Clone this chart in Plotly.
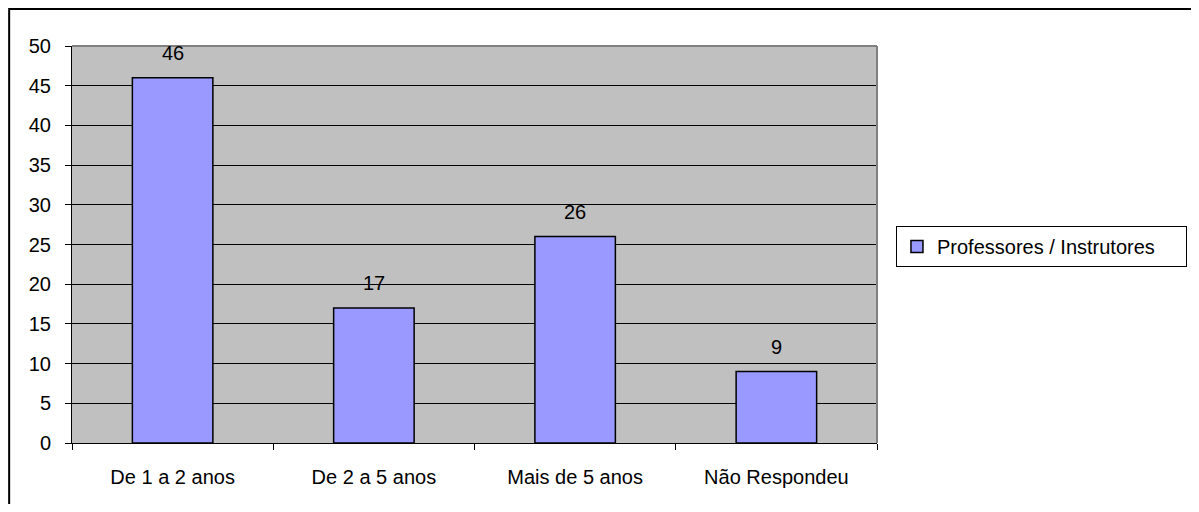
import plotly.graph_objects as go

categories = ["De 1 a 2 anos", "De 2 a 5 anos", "Mais de 5 anos", "Não Respondeu"]
values = [46, 17, 26, 9]
series_name = "Professores / Instrutores"
y_ticks = list(range(0, 51, 5))

# page offset of the figure (default body margin)
OFF = 8
W, H = 1199 - OFF, 512 - 2 * OFF
# plot area in page pixels
PX0, PX1, PY0, PY1 = 72, 879, 46, 443
L, R, T, B = PX0 - OFF, W - (PX1 - OFF), PY0 - OFF, H - (PY1 - OFF)
pw, ph = PX1 - PX0, PY1 - PY0

def px_x(px):
    return (px - PX0) / pw

def px_y(py):
    return (PY1 - py) / ph

FONT = "Liberation Sans, Arial, sans-serif"
FS = 20

fig = go.Figure()
fig.add_trace(go.Bar(
    x=categories, y=values, name=series_name,
    marker=dict(color="#9999FF", line=dict(color="black", width=1.5)),
    width=0.4, showlegend=True,
))

for c, v in zip(categories, values):
    fig.add_annotation(x=c, y=v, text=str(v), showarrow=False,
                       yanchor="bottom", yshift=12,
                       font=dict(family=FONT, size=FS, color="black"))

shapes = [
    dict(type="line", xref="paper", yref="paper", x0=0, x1=1, y0=1, y1=1,
         line=dict(color="#808080", width=2)),
    dict(type="line", xref="paper", yref="paper", x0=1, x1=1, y0=0, y1=1,
         line=dict(color="#808080", width=2)),
    dict(type="rect", xref="paper", yref="paper",
         x0=px_x(OFF + 1), x1=px_x(1195), y0=px_y(530), y1=px_y(9),
         line=dict(color="black", width=2), layer="above"),
]

fig.update_layout(
    width=W, height=H,
    margin=dict(l=L, r=R, t=T, b=B, pad=0),
    paper_bgcolor="white", plot_bgcolor="#C0C0C0",
    font=dict(family=FONT, size=FS, color="black"),
    bargap=0.6,
    shapes=shapes,
    legend=dict(x=px_x(898), y=px_y(226), xanchor="left", yanchor="top",
                orientation="h",
                bgcolor="white", bordercolor="black", borderwidth=1,
                entrywidth=244, entrywidthmode="pixels",
                font=dict(family=FONT, size=FS, color="black")),
    xaxis=dict(showgrid=False, showline=True, linecolor="black", linewidth=1,
               ticks="outside", ticklen=6, tickcolor="black", tickson="boundaries",
               ticklabelstandoff=16, zeroline=False,
               tickfont=dict(family=FONT, size=FS, color="black")),
    yaxis=dict(range=[0, 50], tickvals=y_ticks, showgrid=True, gridcolor="black",
               gridwidth=1, showline=True, linecolor="black", linewidth=1,
               ticks="outside", ticklen=6, tickcolor="black", zeroline=False,
               ticklabelstandoff=10,
               tickfont=dict(family=FONT, size=FS, color="black")),
)

fig.write_html("out.html")
